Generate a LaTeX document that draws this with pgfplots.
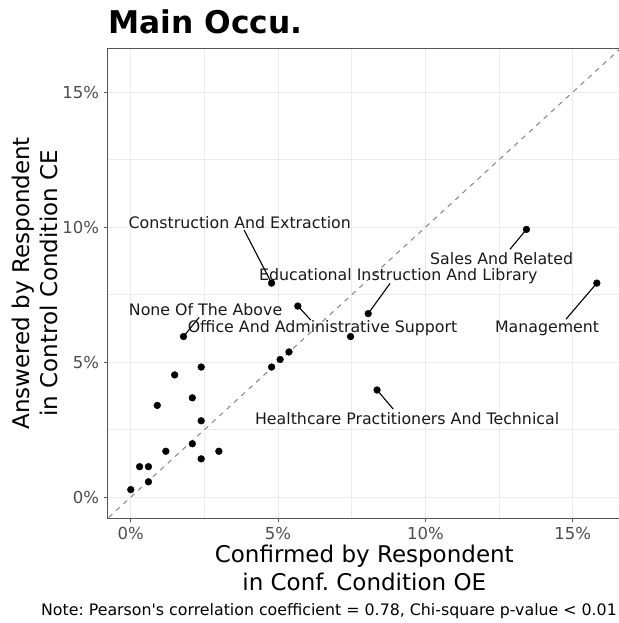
\documentclass[border=0pt]{standalone}
\usepackage{fontspec}
\setmainfont{DejaVu Sans}
\usepackage{pgfplots}
\pgfplotsset{compat=1.18}
\frenchspacing
\definecolor{gridc}{HTML}{EBEBEB}
\definecolor{tickc}{HTML}{4D4D4D}
\definecolor{framec}{HTML}{555555}
\definecolor{dashc}{HTML}{8C8C8C}
\pgfplotstableread{
x y
0.00 0.28
0.30 1.13
0.60 1.13
0.60 0.57
0.90 3.40
1.19 1.70
1.49 4.53
2.09 3.68
2.09 1.98
2.39 4.82
2.39 2.83
2.39 1.42
2.99 1.70
4.78 4.82
5.07 5.10
5.37 5.38
13.43 9.92
4.78 7.93
5.67 7.08
8.06 6.80
1.79 5.95
7.46 5.95
15.82 7.93
8.36 3.97
}\occdata
\begin{document}
\begin{tikzpicture}[x=1pt,y=1pt]
\useasboundingbox (0,0) rectangle (618,623);
\begin{axis}[
  at={(107.5pt,104.5pt)}, anchor=south west,
  scale only axis, width=513.5pt, height=470.5pt,
  xmin=-0.79, xmax=16.64, ymin=-0.79, ymax=16.64,
  xtick={0,5,10,15}, ytick={0,5,10,15},
  xticklabels={0\%,5\%,10\%,15\%}, yticklabels={0\%,5\%,10\%,15\%},
  minor xtick={2.5,7.5,12.5}, minor ytick={2.5,7.5,12.5},
  grid=both,
  major grid style={gridc, line width=1.1pt},
  minor grid style={gridc, line width=0.55pt},
  tick align=outside, major tick length=4pt, minor tick length=0pt,
  tick style={color=framec, line width=0.6pt},
  axis line style={color=framec, line width=0.6pt},
  xtick pos=bottom, ytick pos=left,
  /pgf/number format/assume math mode=true,
  ticklabel style={font=\fontsize{16.5}{19}\selectfont, text=tickc},
  xticklabel style={yshift=-1pt},
  yticklabel style={xshift=-1pt},
]
\addplot[dashc, dash pattern=on 5pt off 5pt, line width=1.1pt, forget plot] coordinates {(-1,-1) (17,17)};
% label segments
\draw[black, line width=1.1pt] (axis cs:3.85,9.89) -- (axis cs:4.78,7.93);
\draw[black, line width=1.1pt] (axis cs:12.87,9.18) -- (axis cs:13.43,9.92);
\draw[black, line width=1.1pt] (axis cs:8.80,7.92) -- (axis cs:8.06,6.80);
\draw[black, line width=1.1pt] (axis cs:2.32,6.66) -- (axis cs:1.79,5.95);
\draw[black, line width=1.1pt] (axis cs:6.11,6.56) -- (axis cs:5.67,7.08);
\draw[black, line width=1.1pt] (axis cs:14.77,6.59) -- (axis cs:15.82,7.93);
\draw[black, line width=1.1pt] (axis cs:8.91,3.26) -- (axis cs:8.36,3.97);
\addplot[only marks, mark=*, mark size=3.4pt, mark options={fill=black, draw=black}] table[x=x,y=y] {\occdata};
% labels
\begin{scope}[every node/.style={font=\fontsize{15.8}{18}\selectfont, text=black!90, inner sep=0pt}]
\node at (axis cs:3.70,10.16) {Construction And Extraction};
\node at (axis cs:12.59,8.85) {Sales And Related};
\node at (axis cs:9.08,8.19) {Educational Instruction And Library};
\node at (axis cs:2.54,6.96) {None Of The Above};
\node at (axis cs:6.51,6.25) {Office And Administrative Support};
\node at (axis cs:14.13,6.25) {Management};
\node at (axis cs:9.38,2.90) {Healthcare Practitioners And Technical};
\end{scope}
\end{axis}
\node[anchor=base west, inner sep=0pt, font=\bfseries\fontsize{31.3}{35}\selectfont] at (108.3,589.7) {Main Occu.};
\node[anchor=base, inner sep=0pt, font=\fontsize{23}{27}\selectfont] at (364.25,60.3) {Confirmed by Respondent};
\node[anchor=base, inner sep=0pt, font=\fontsize{23}{27}\selectfont] at (364.25,32) {in Conf. Condition OE};
\node[anchor=base, rotate=90, inner sep=0pt, font=\fontsize{23}{27}\selectfont] at (29,339.75) {Answered by Respondent};
\node[anchor=base, rotate=90, inner sep=0pt, font=\fontsize{23}{27}\selectfont] at (57,339.75) {in Control Condition CE};
\node[anchor=base east, inner sep=0pt, font=\fontsize{15.8}{18}\selectfont] at (617,8) {Note: Pearson\textquotesingle s correlation coefficient = 0.78, Chi-square p-value < 0.01};
\end{tikzpicture}
\end{document}
